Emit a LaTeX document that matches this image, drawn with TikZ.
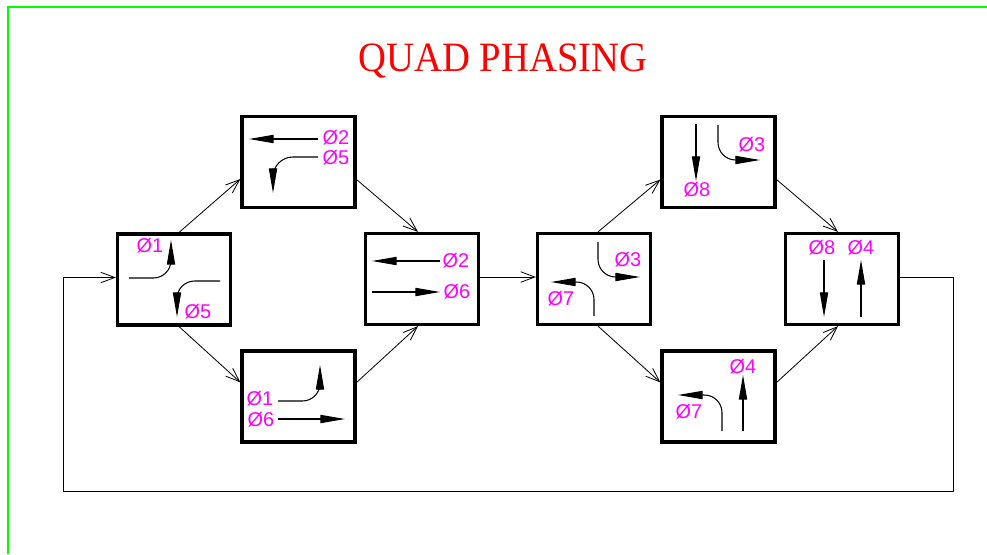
\documentclass[tikz,border=0pt]{standalone}
\usepackage{fontspec}
\usepackage{tikz}
\usetikzlibrary{arrows.meta}
\newfontfamily\labelfont{Liberation Sans}
\newfontfamily\titlefont{Liberation Serif}
\definecolor{titlered}{RGB}{255,0,0}
\definecolor{phasemag}{RGB}{255,0,255}
\definecolor{framegreen}{RGB}{0,255,0}
\tikzset{>={Straight Barb[length=12pt,width=9pt]},
         phasebox/.style={draw, line width=2.7pt, minimum width=3.39cm,
                          minimum height=2.73cm, inner sep=0pt},
         link/.style={->, line width=0.7pt},
         move/.style={-{Triangle[length=21pt,width=7pt]}, line width=0.9pt,
                      rounded corners=15pt},
         philabel/.style={inner sep=0pt, text=phasemag,
                          font=\labelfont\fontsize{17}{17}\selectfont}}

\begin{document}
\begin{tikzpicture}[x=0.03cm, y=-0.03cm]

	\useasboundingbox (0,0) rectangle (987,554);
	\draw[framegreen, line width=1.1pt] (987,7) -- (8,7) -- (8,554);
	\node[text=titlered, font=\titlefont\fontsize{33}{33}\selectfont, yscale=1.08] (title) at (503,61) {QUAD PHASING};

	\node[phasebox] (p1) at (174,279.5) {};
	\node[phasebox] (p2) at (298.5,162) {};
	\node[phasebox] (p3) at (298.5,396.5) {};
	\node[phasebox] (p4) at (422,279) {};
	\node[phasebox] (p5) at (594,279) {};
	\node[phasebox] (p6) at (718.5,162) {};
	\node[phasebox] (p7) at (718.5,396.5) {};
	\node[phasebox] (p8) at (842,279) {};

	\draw[link] ([xshift=4.3pt]p1.north) -- ([yshift=-14.5pt]p2.west);
	\draw[link] ([xshift=4.3pt]p1.south) -- ([yshift=12pt]p3.west);
	\draw[link] ([yshift=-15pt]p2.east) -- ([xshift=-3.4pt]p4.north);
	\draw[link] ([yshift=12pt]p3.east) -- ([xshift=-3.4pt]p4.south);
	\draw[link] ([yshift=1.7pt]p4.east) -- ([yshift=1.7pt]p5.west);
	\draw[link] ([xshift=3.4pt]p5.north) -- ([yshift=-15pt]p6.west);
	\draw[link] ([xshift=3.4pt]p5.south) -- ([yshift=12pt]p7.west);
	\draw[link] ([yshift=-15pt]p6.east) -- ([xshift=-3.4pt]p8.north);
	\draw[link] ([yshift=12pt]p7.east) -- ([xshift=-3.4pt]p8.south);
	\coordinate (loopr) at (953,491);
	\coordinate (loopl) at (63,491);
	\draw[link] ([yshift=1.7pt]p8.east) -| (loopr) -- (loopl) |- ([yshift=1.7pt]p1.west);

	% phase 1 + 5
	\draw[move] (129,278) -| (171,240);
	\draw[move] (220,281) -| (177,317);
	\node[philabel] (p1a) at (150,246) {Ø1};
	\node[philabel] (p1b) at (198,312) {Ø5};
	% phase 2 + 5
	\draw[move] (318,139) -- (249,139);
	\draw[move, rounded corners=17pt] (318,157) -| (273,193);
	\node[philabel] (p2a) at (336,138) {Ø2};
	\node[philabel] (p2b) at (336,158) {Ø5};
	% phase 1 + 6
	\draw[move] (278,401) -| (320,365);
	\draw[move] (278,419) -- (345,419);
	\node[philabel] (p3a) at (260,399) {Ø1};
	\node[philabel] (p3b) at (261,420) {Ø6};
	% phase 2 + 6
	\draw[move] (440,261) -- (372,261);
	\draw[move] (372,292) -- (440,292);
	\node[philabel] (p4a) at (456,261) {Ø2};
	\node[philabel] (p4b) at (457,292) {Ø6};
	% phase 3 + 7
	\draw[move] (598,242) |- (640,277);
	\draw[move] (594,316) |- (551,282);
	\node[philabel] (p5a) at (628,260) {Ø3};
	\node[philabel] (p5b) at (561,299) {Ø7};
	% phase 3 + 8
	\draw[move] (696,124) -- (696,181);
	\draw[move] (718,125) |- (760,160);
	\node[philabel] (p6a) at (752,145) {Ø3};
	\node[philabel] (p6b) at (697,190) {Ø8};
	% phase 4 + 7
	\draw[move] (743,431) -- (743,375);
	\draw[move] (722,431) |- (678,395);
	\node[philabel] (p7a) at (743,367) {Ø4};
	\node[philabel] (p7b) at (689,412) {Ø7};
	% phase 4 + 8
	\draw[move] (824,260) -- (824,317);
	\draw[move] (861,317) -- (861,260);
	\node[philabel] (p8a) at (822,248) {Ø8};
	\node[philabel] (p8b) at (861,248) {Ø4};

\end{tikzpicture}
\end{document}
